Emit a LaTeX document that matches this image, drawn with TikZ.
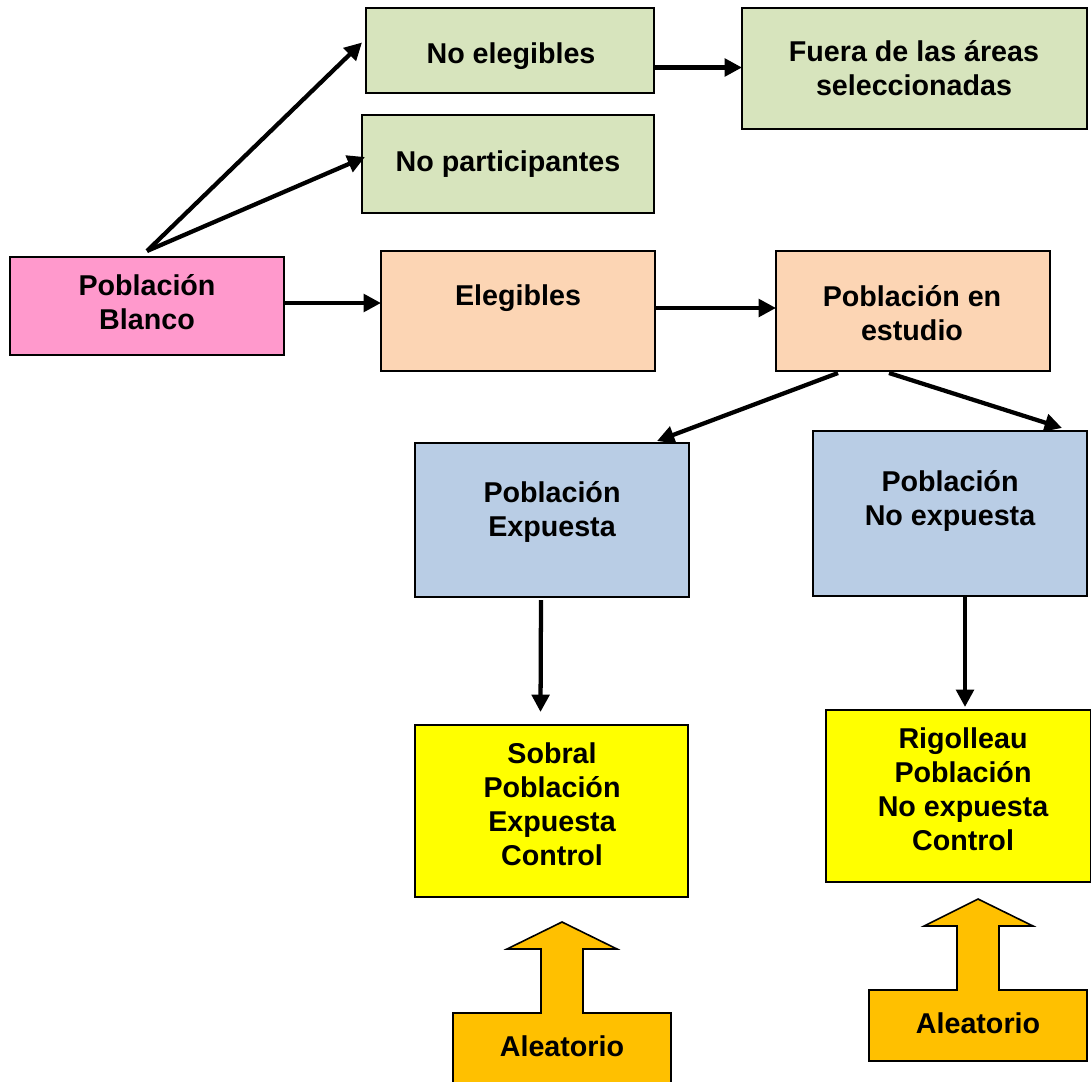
\documentclass[tikz,border=0pt]{standalone}
\usepackage{fontspec}
\setmainfont{Liberation Sans}
\usetikzlibrary{arrows.meta,calc}
\definecolor{cgreen}{HTML}{D7E4BD}
\definecolor{cpink}{HTML}{FF99CC}
\definecolor{cpeach}{HTML}{FCD5B4}
\definecolor{cblue}{HTML}{B9CDE5}
\definecolor{cyellow}{HTML}{FFFF00}
\definecolor{corange}{HTML}{FFC000}
\begin{document}
\begin{tikzpicture}[x=0.75pt,y=-0.75pt,
  box/.style={draw=black,line width=1.2pt,inner sep=0pt,outer sep=0pt},
  txt/.style={font=\fontsize{21.5pt}{25.5pt}\selectfont\bfseries,align=center,inner sep=0pt},
  conn/.style={line width=3.2pt,-{Triangle[length=13pt,width=13pt]}},
  blk/.style={draw=black,line width=1.2pt,fill=corange,line join=miter}]
\useasboundingbox (0,0) rectangle (1091,1081);
\clip (0,0) rectangle (1091,1081);
% boxes
\node[box,fill=cgreen,minimum width=288*0.75pt,minimum height=85*0.75pt] (noel) at (510,50.5) {};
\node[box,fill=cgreen,minimum width=345*0.75pt,minimum height=121*0.75pt] (fuera) at (914.5,68.5) {};
\node[box,fill=cgreen,minimum width=292*0.75pt,minimum height=98*0.75pt] (nopart) at (508,164) {};
\node[box,fill=cpink,minimum width=274*0.75pt,minimum height=98*0.75pt] (blanco) at (147,306) {};
\node[box,fill=cpeach,minimum width=274*0.75pt,minimum height=120*0.75pt] (eleg) at (518,311) {};
\node[box,fill=cpeach,minimum width=274*0.75pt,minimum height=120*0.75pt] (est) at (913,311) {};
\node[box,fill=cblue,minimum width=274*0.75pt,minimum height=154*0.75pt] (exp) at (552,520) {};
\node[box,fill=cblue,minimum width=274*0.75pt,minimum height=165*0.75pt] (noexp) at (950,513.5) {};
\node[box,fill=cyellow,minimum width=273*0.75pt,minimum height=172*0.75pt] (sobral) at (551.5,811) {};
\node[box,fill=cyellow,minimum width=265*0.75pt,minimum height=172*0.75pt] (rig) at (958.5,796) {};
% block arrows with Aleatorio
\draw[blk] (453,1100) -- (453,1013) -- (541,1013) -- (541,949) -- (507,949) -- (562,922)
  -- (617,949) -- (583,949) -- (583,1013) -- (671,1013) -- (671,1100) -- cycle;
\draw[blk] (869,1061) -- (869,990) -- (957,990) -- (957,926) -- (924,926) -- (978,899)
  -- (1033,926) -- (999,926) -- (999,990) -- (1087,990) -- (1087,1061) -- cycle;
% texts
\node[txt] (noelT) at (511,56) {No elegibles};
\node[txt] (fueraT) at (914,68) {Fuera de las áreas\\seleccionadas};
\node[txt] (nopartT) at (508,164) {No participantes};
\node[txt] (blancoT) at (147,302) {Población\\Blanco};
\node[txt] (elegT) at (518,298) {Elegibles};
\node[txt] (estT) at (912,313) {Población en\\estudio};
\node[txt] (expT) at (552,512) {Población\\Expuesta};
\node[txt] (noexpT) at (950,501) {Población\\No expuesta};
\node[txt] (sobralT) at (552,804) {Sobral\\Población\\Expuesta\\Control};
\node[txt] (rigT) at (963,789) {Rigolleau\\Población\\No expuesta\\Control};
\node[txt] (alea1) at (562,1046) {Aleatorio};
\node[txt] (alea2) at (978,1023) {Aleatorio};
% connectors
\draw[conn] ([shift={(0,-6)}]blanco.north) -- ([shift={(-4,-8)}]noel.west);
\draw[conn] ([shift={(0,-6)}]blanco.north) -- ([shift={(3,-7)}]nopart.west);
\draw[conn] ([shift={(0,-3)}]blanco.east) -- ([shift={(0,-3)}]blanco.east -| eleg.west);
\draw[conn] ([shift={(0,17)}]noel.east) -- ([shift={(0,17)}]noel.east -| fuera.west);
\draw[conn] ([shift={(0,-3)}]eleg.east) -- ([shift={(0,-3)}]eleg.east -| est.west);
\draw[conn] ([shift={(-75,2)}]est.south) -- ([shift={(105,-2)}]exp.north);
\draw[conn] ([shift={(-24,2)}]est.south) -- ([shift={(112,-3)}]noexp.north);
\draw[conn] ([shift={(-11,3)}]exp.south) -- ([shift={(-11,-13)}]sobral.north);
\draw[conn] ([shift={(15,1)}]noexp.south) -- ([shift={(6.5,-3)}]rig.north);
\end{tikzpicture}
\end{document}
